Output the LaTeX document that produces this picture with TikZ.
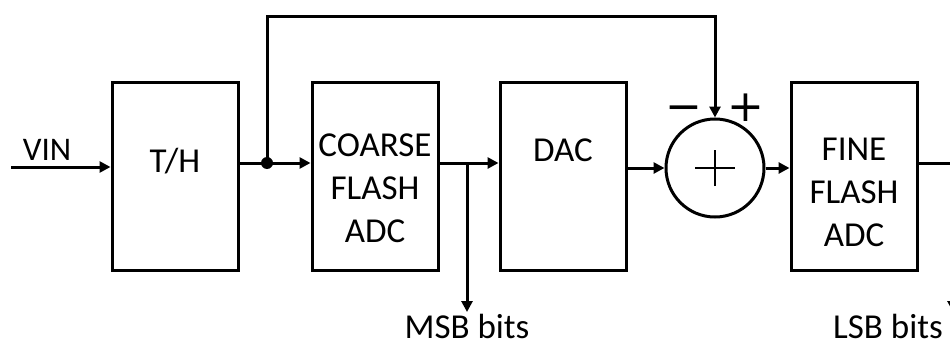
\documentclass[tikz,border=0pt]{standalone}
\usepackage{fontspec}
\setmainfont{Carlito}
\newfontfamily\signfont{DejaVu Sans}
\usetikzlibrary{arrows.meta}

\begin{document}
\begin{tikzpicture}[x=1pt,y=-1pt,line width=3pt,-{Triangle[length=11pt,width=11pt]}]
  \tikzstyle{block}=[draw,-,rectangle,minimum width=126pt,minimum height=188pt,inner sep=0pt]
  \tikzstyle{txt}=[font=\fontsize{35}{43}\selectfont,align=center,inner sep=0pt]
  \tikzstyle{summer}=[draw,-,circle,minimum size=98pt,inner sep=0pt]
  \tikzstyle{sign}=[inner sep=0pt,font=\signfont\fontsize{44}{44}\selectfont]
  \useasboundingbox (0,0) rectangle (950,345);
  \clip (0,0) rectangle (950,345);
  % blocks
  \node[block] (TH) at (175,176) {};
  \node[block] (CF) at (375,176) {};
  \node[block] (DA) at (563,176) {};
  \node[block] (FF) at (854,176) {};
  \node[summer] (S) at (715,168) {};
  % texts
  \node[txt] (THt) at (175,161) {T/H};
  \node[txt] (CFt) at (375,188) {COARSE\\FLASH\\ADC};
  \node[txt] (DAt) at (563,150) {DAC};
  \node[txt] (FFt) at (854,192) {FINE\\FLASH\\ADC};
  \node[txt,font=\fontsize{33}{40}\selectfont] (VINt) at (47,150) {VIN};
  \node[txt,anchor=base] (MSBt) at (467,338) {MSB bits};
  \node[txt,anchor=base] (LSBt) at (888,338) {LSB bits};
  \node[sign] (minus) at (684,114) {−};
  \node[sign] (plus) at (746,108) {+};
  % plus inside the summer
  \draw[-,line width=2.6pt] ([xshift=-20pt]S.center) -- ([xshift=20pt]S.center);
  \draw[-,line width=2.6pt] ([yshift=-18pt]S.center) -- ([yshift=18pt]S.center);
  % wires
  \coordinate (VIN) at (11,167);
  \coordinate (J1) at (267,163);
  \coordinate (J2) at (467,163);
  \coordinate (MSB) at (467,312);
  \coordinate (top1) at (267,17);
  \coordinate (top2) at (715,17);
  \coordinate (out1) at (953,163);
  \coordinate (LSB) at (953,312);
  \draw (VIN) -- (VIN -| TH.west);
  \draw[-] (TH.east |- J1) -- (J1);
  \draw (J1) -- (J1 -| CF.west);
  \fill (J1) circle (6pt);
  \draw (J1) -- (top1) -- (top2) -- (S.north);
  \draw[-] (CF.east |- J2) -- (J2);
  \draw (J2) -- (J2 -| DA.west);
  \draw (J2) -- (MSB);
  \draw (S.west -| DA.east) -- (S.west);
  \draw (S.east) -- (S.east -| FF.west);
  \draw (FF.east |- out1) -- (out1) -- (LSB);
\end{tikzpicture}
\end{document}
